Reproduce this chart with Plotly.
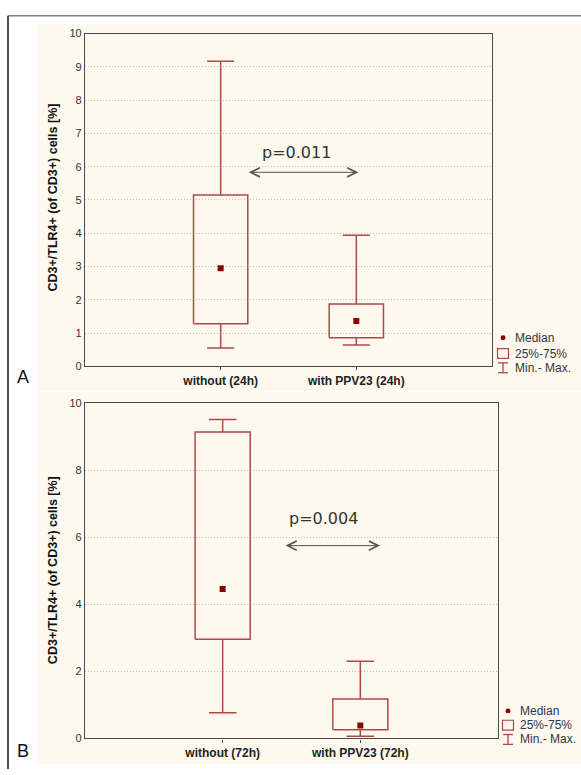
import plotly.graph_objects as go

# ---------------- data ----------------
categories_A = ["without (24h)", "with PPV23 (24h)"]
min_A = [0.55, 0.64]
q1_A = [1.28, 0.86]
median_A = [2.95, 1.36]
q3_A = [5.15, 1.87]
max_A = [9.17, 3.94]
ticks_A = [0, 1, 2, 3, 4, 5, 6, 7, 8, 9, 10]
p_text_A = "p=0.011"

categories_B = ["without (72h)", "with PPV23 (72h)"]
min_B = [0.77, 0.07]
q1_B = [2.96, 0.26]
median_B = [4.46, 0.39]
q3_B = [9.14, 1.18]
max_B = [9.51, 2.30]
ticks_B = [0, 2, 4, 6, 8, 10]
p_text_B = "p=0.004"

legend_labels = ["Median", "25%-75%", "Min.- Max."]
y_title = "CD3+/TLR4+ (of CD3+) cells [%]"

# ---------------- style ----------------
W, H = 581, 775
BOX_COLOR = "#B04848"
MED_COLOR = "#8B0000"
CREAM = "#FEF9EE"
TXT = "#333333"
FONT = "Liberation Sans, Arial, sans-serif"
BOX_HW = 0.2
CAP_HW = 0.1


def px(xp):
    return xp / W


def py(yp):
    return 1 - yp / H


def box_traces(mins, q1s, meds, q3s, maxs, xa, ya):
    bx, by = [], []
    wx, wy = [], []
    for i in range(len(meds)):
        bx += [i - BOX_HW, i + BOX_HW, i + BOX_HW, i - BOX_HW, i - BOX_HW, None]
        by += [q1s[i], q1s[i], q3s[i], q3s[i], q1s[i], None]
        wx += [i, i, None, i, i, None,
               i - CAP_HW, i + CAP_HW, None, i - CAP_HW, i + CAP_HW, None]
        wy += [q3s[i], maxs[i], None, q1s[i], mins[i], None,
               maxs[i], maxs[i], None, mins[i], mins[i], None]
    return [
        go.Scatter(x=wx, y=wy, mode="lines", xaxis=xa, yaxis=ya,
                   line=dict(color=BOX_COLOR, width=1.5), hoverinfo="skip",
                   showlegend=False),
        go.Scatter(x=bx, y=by, mode="lines", xaxis=xa, yaxis=ya,
                   line=dict(color=BOX_COLOR, width=1.5), hoverinfo="skip",
                   showlegend=False),
        go.Scatter(x=list(range(len(meds))), y=meds, mode="markers",
                   xaxis=xa, yaxis=ya,
                   marker=dict(symbol="square", size=6, color=MED_COLOR),
                   showlegend=False),
    ]


fig = go.Figure()
for t in box_traces(min_A, q1_A, median_A, q3_A, max_A, "x", "y"):
    fig.add_trace(t)
for t in box_traces(min_B, q1_B, median_B, q3_B, max_B, "x2", "y2"):
    fig.add_trace(t)

axis_common = dict(showline=True, linecolor="#4a4a4a", linewidth=1.3,
                   mirror=True, zeroline=False)
xcommon = dict(axis_common, range=[-1, 2], tickvals=[0, 1], ticks="outside",
               ticklen=3, tickcolor="#4a4a4a", showgrid=False,
               tickfont=dict(family=FONT, size=12, color="#222222",
                             weight="bold"))
ycommon = dict(axis_common, range=[0, 10], showgrid=True, gridcolor="#BDBDBD",
               gridwidth=1, griddash="1px,2px", ticks="",
               tickfont=dict(family=FONT, size=11, color=TXT))

fig.update_layout(
    width=W, height=H, autosize=False,
    margin=dict(l=0, r=0, t=0, b=0),
    paper_bgcolor="white", plot_bgcolor="white",
    showlegend=False,
    xaxis=dict(xcommon, domain=[px(85), px(492)], anchor="y",
               ticktext=categories_A),
    yaxis=dict(ycommon, domain=[py(366), py(28)], anchor="x",
               tickvals=ticks_A),
    xaxis2=dict(xcommon, domain=[px(85), px(498)], anchor="y2",
                ticktext=categories_B),
    yaxis2=dict(ycommon, domain=[py(744), py(403.3)], anchor="x2",
                tickvals=ticks_B),
)

shapes = [
    dict(type="rect", xref="paper", yref="paper", x0=px(37), x1=1,
         y0=py(391), y1=py(18), fillcolor=CREAM, line_width=0, layer="below"),
    dict(type="rect", xref="paper", yref="paper", x0=px(37), x1=1,
         y0=py(770), y1=py(392), fillcolor=CREAM, line_width=0, layer="below"),
    dict(type="line", xref="paper", yref="paper", x0=px(8), x1=1,
         y0=py(10), y1=py(10), line=dict(color="#808080", width=1.5)),
    dict(type="line", xref="paper", yref="paper", x0=px(8), x1=px(8),
         y0=py(10), y1=0, line=dict(color="#1a1a1a", width=1.5)),
]

annotations = []

# y-axis titles and panel letters
for yc in (194.5, 573):
    annotations.append(dict(xref="paper", yref="paper", x=px(53), y=py(yc),
                            text=y_title, textangle=-90, showarrow=False,
                            font=dict(family=FONT, size=12.5, color="#111111",
                                      weight="bold"),
                            xanchor="center", yanchor="middle"))
for letter, yc in (("A", 377), ("B", 757)):
    annotations.append(dict(xref="paper", yref="paper", x=px(23), y=py(yc),
                            text=letter, showarrow=False,
                            font=dict(family=FONT, size=18, color="#111111"),
                            xanchor="center", yanchor="middle"))

# p-values and arrows
for (xr, yr, tx, ty, x0, x1, ya, txt) in (
        ("x", "y", 0.56, 6.42, 0.196, 1.015, 5.83, p_text_A),
        ("x2", "y2", 0.736, 6.57, 0.446, 1.143, 5.75, p_text_B)):
    annotations.append(dict(xref=xr, yref=yr, x=tx, y=ty, text=txt,
                            showarrow=False,
                            font=dict(family="DejaVu Sans", size=16,
                                      color="#333333"),
                            xanchor="center", yanchor="middle"))
    annotations.append(dict(xref=xr, yref=yr, x=x1, y=ya, ax=x0, ay=ya,
                            axref=xr, ayref=yr, text="", showarrow=True,
                            arrowhead=5, startarrowhead=5,
                            arrowside="end+start", arrowsize=1.8,
                            arrowwidth=1, arrowcolor="#555555", standoff=0,
                            startstandoff=0))

# manual legends
for (mx, y_med, y_box, y_mm, tx) in ((503, 337, 353, 367.5, 513),
                                      (508, 716, 730.5, 745, 518)):
    shapes.append(dict(type="circle", xref="paper", yref="paper",
                       x0=px(mx - 2.5), x1=px(mx + 2.5),
                       y0=py(y_med + 2.5), y1=py(y_med - 2.5),
                       fillcolor=MED_COLOR, line_width=0))
    shapes.append(dict(type="rect", xref="paper", yref="paper",
                       x0=px(mx - 5.5), x1=px(mx + 5.5),
                       y0=py(y_box + 5), y1=py(y_box - 5),
                       line=dict(color=BOX_COLOR, width=1.2)))
    for seg in ((mx, y_mm - 5, mx, y_mm + 5),
                (mx - 5, y_mm - 5, mx + 5, y_mm - 5),
                (mx - 5, y_mm + 5, mx + 5, y_mm + 5)):
        shapes.append(dict(type="line", xref="paper", yref="paper",
                           x0=px(seg[0]), y0=py(seg[1]),
                           x1=px(seg[2]), y1=py(seg[3]),
                           line=dict(color=BOX_COLOR, width=1.3)))
    for lab, yc in zip(legend_labels, (y_med, y_box, y_mm)):
        annotations.append(dict(xref="paper", yref="paper", x=px(tx),
                                y=py(yc), text=lab, showarrow=False,
                                xanchor="left", yanchor="middle",
                                font=dict(family=FONT, size=12,
                                          color="#333344")))

fig.update_layout(shapes=shapes, annotations=annotations)
fig.write_html("out.html")
